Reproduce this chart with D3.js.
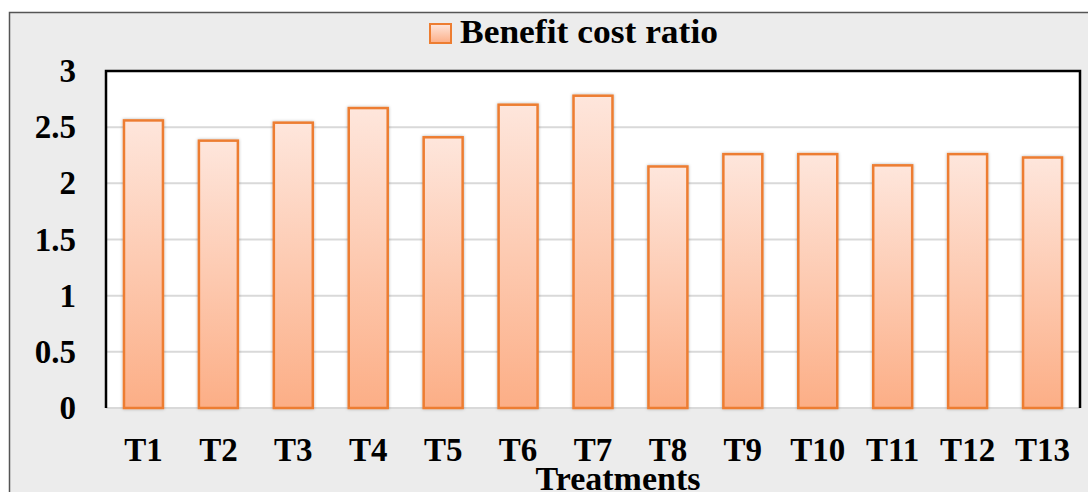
<!DOCTYPE html>
<html lang="en">
<head>
    <meta charset="UTF-8">
    <title>Benefit cost ratio</title>
    <script src="https://d3js.org/d3.v7.min.js"></script>
    <style>
        body { margin: 0; background: #fff; }
        svg text { font-family: "Liberation Serif", "Times New Roman", serif; font-weight: bold; fill: #000; }
        .tick text { font-size: 33px; }
    </style>
</head>
<body>
<svg id="chart" width="1088" height="492"></svg>
<script>
    const treatments = ["T1", "T2", "T3", "T4", "T5", "T6", "T7", "T8", "T9", "T10", "T11", "T12", "T13"];
    const bcr = [2.56, 2.38, 2.54, 2.67, 2.41, 2.70, 2.78, 2.15, 2.26, 2.26, 2.16, 2.26, 2.23];
    const yTicks = [0, 0.5, 1, 1.5, 2, 2.5, 3];

    const svg = d3.select("#chart");
    const margin = { top: 71, right: 8, bottom: 84, left: 106 };
    const W = 1088, H = 492;
    const w = W - margin.left - margin.right;
    const h = H - margin.top - margin.bottom;

    const defs = svg.append("defs");
    const grad = defs.append("linearGradient")
        .attr("id", "barGrad").attr("x1", 0).attr("y1", 0).attr("x2", 0).attr("y2", 1);
    grad.append("stop").attr("offset", "0%").attr("stop-color", "#fee6dc");
    grad.append("stop").attr("offset", "100%").attr("stop-color", "#fcae86");

    const shadow = defs.append("filter").attr("id", "shadow")
        .attr("x", "-20%").attr("y", "-20%").attr("width", "140%").attr("height", "140%");
    shadow.append("feDropShadow").attr("dx", 0).attr("dy", 0)
        .attr("stdDeviation", 1.5).attr("flood-color", "#000").attr("flood-opacity", 0.3);

    const glow = defs.append("filter").attr("id", "glow")
        .attr("x", "-5%").attr("y", "-300%").attr("width", "110%").attr("height", "700%");
    glow.append("feGaussianBlur").attr("stdDeviation", 2);

    // outer frame
    svg.append("rect")
        .attr("x", 9.5).attr("y", 12.5).attr("width", W).attr("height", H)
        .attr("fill", "#ececec").attr("stroke", "#555").attr("stroke-width", 1.5);

    const g = svg.append("g").attr("transform", `translate(${margin.left},${margin.top})`);

    const x = d3.scaleBand().domain(treatments).range([0, w])
        .paddingInner(0.48).paddingOuter(0.24);
    const y = d3.scaleLinear().domain([0, 3]).range([h, 0]);

    g.append("rect").attr("width", w).attr("height", h).attr("fill", "#fff");

    // gridlines with soft blue glow underneath
    g.selectAll(".glow").data(yTicks.slice(0, -1))
        .enter().append("line")
        .attr("x1", 0).attr("x2", w)
        .attr("y1", d => y(d) + 6).attr("y2", d => y(d) + 6)
        .attr("stroke", "#c6d5ec").attr("stroke-width", 6)
        .attr("filter", "url(#glow)");
    g.append("line")
        .attr("x1", 0).attr("x2", w)
        .attr("y1", y(3) + 7).attr("y2", y(3) + 7)
        .attr("stroke", "#c6d5ec").attr("stroke-width", 5)
        .attr("filter", "url(#glow)");
    g.selectAll(".grid").data(yTicks)
        .enter().append("line")
        .attr("x1", 0).attr("x2", w)
        .attr("y1", d => y(d)).attr("y2", d => y(d))
        .attr("stroke", "#d9d9d9").attr("stroke-width", 2);

    g.selectAll(".bar").data(bcr)
        .enter().append("rect")
        .attr("class", "bar")
        .attr("x", (d, i) => x(treatments[i]))
        .attr("y", d => y(d))
        .attr("width", x.bandwidth())
        .attr("height", d => h - y(d))
        .attr("fill", "url(#barGrad)")
        .attr("stroke", "#ed7d31").attr("stroke-width", 2.5)
        .attr("filter", "url(#shadow)");

    // plot border: left, top, right black
    g.append("path")
        .attr("d", `M0,${h}V0H${w}V${h}`)
        .attr("fill", "none").attr("stroke", "#000").attr("stroke-width", 2.5);

    const yAxis = g.append("g")
        .call(d3.axisLeft(y).tickValues(yTicks).tickSize(0).tickPadding(30).tickFormat(d3.format("")));
    yAxis.select(".domain").remove();

    const xAxis = g.append("g").attr("transform", `translate(0,${h})`)
        .call(d3.axisBottom(x).tickSize(0).tickPadding(30));
    xAxis.select(".domain").remove();

    svg.append("text")
        .attr("x", 618).attr("y", 490)
        .attr("text-anchor", "middle").attr("font-size", 34)
        .text("Treatments");

    // legend
    const legend = svg.append("g").attr("transform", "translate(430,24)");
    legend.append("rect")
        .attr("width", 21).attr("height", 19)
        .attr("fill", "url(#barGrad)").attr("stroke", "#ed7d31").attr("stroke-width", 2);
    legend.append("text")
        .attr("x", 30).attr("y", 19)
        .attr("font-size", 34)
        .attr("textLength", 258).attr("lengthAdjust", "spacingAndGlyphs")
        .text("Benefit cost ratio");
</script>
</body>
</html>
